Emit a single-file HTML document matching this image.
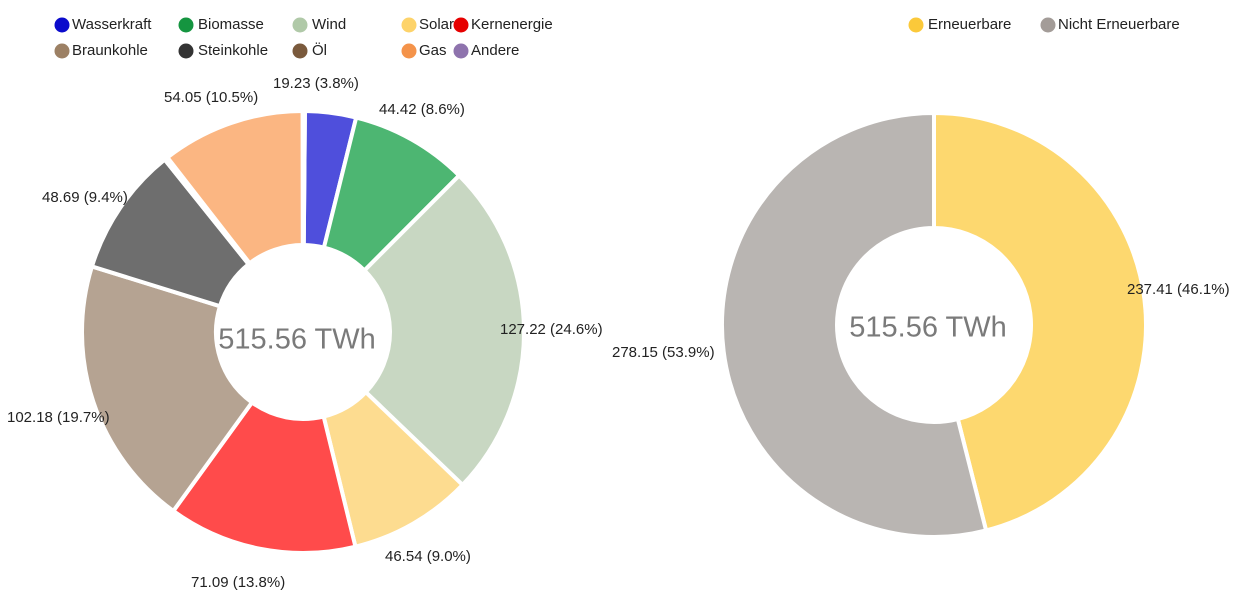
<!DOCTYPE html>
<html><head><meta charset="utf-8"><style>
body{margin:0;width:1249px;height:607px;background:#fff;font-family:"Liberation Sans",Arial,sans-serif;overflow:hidden;position:relative}
.t{position:absolute;font-size:15px;color:#222;white-space:nowrap;line-height:16px;transform:translateY(-50%)}
.lg{position:absolute;font-size:15px;color:#222;white-space:nowrap;line-height:16px;transform:translateY(-50%)}
.d{position:absolute;width:15px;height:15px;border-radius:50%;transform:translate(-50%,-50%)}
.c{position:absolute;font-size:29px;color:#7a7a7a;transform:translate(-50%,-50%);white-space:nowrap}
</style></head><body>
<svg id="s" width="1249" height="607" style="position:absolute;left:0;top:0"></svg>
<div class="c" style="left:297px;top:340px">515.56 TWh</div>
<div class="c" style="left:928px;top:328px">515.56 TWh</div>

<div class="d" style="left:62px;top:25px;background:#0b0bcc"></div><div class="lg" style="left:72px;top:25px">Wasserkraft</div>
<div class="d" style="left:186px;top:25px;background:#159540"></div><div class="lg" style="left:198px;top:25px">Biomasse</div>
<div class="d" style="left:300px;top:25px;background:#b0c9a8"></div><div class="lg" style="left:312px;top:25px">Wind</div>
<div class="d" style="left:409px;top:25px;background:#fdd36a"></div><div class="lg" style="left:419px;top:25px">Solar</div>
<div class="d" style="left:461px;top:25px;background:#e60000"></div><div class="lg" style="left:471px;top:25px">Kernenergie</div>
<div class="d" style="left:62px;top:51px;background:#9c8064"></div><div class="lg" style="left:72px;top:51px">Braunkohle</div>
<div class="d" style="left:186px;top:51px;background:#333"></div><div class="lg" style="left:198px;top:51px">Steinkohle</div>
<div class="d" style="left:300px;top:51px;background:#7a5a3c"></div><div class="lg" style="left:312px;top:51px">Öl</div>
<div class="d" style="left:409px;top:51px;background:#f4934a"></div><div class="lg" style="left:419px;top:51px">Gas</div>
<div class="d" style="left:461px;top:51px;background:#8e73ad"></div><div class="lg" style="left:471px;top:51px">Andere</div>
<div class="d" style="left:916px;top:25px;background:#fbc93a"></div><div class="lg" style="left:928px;top:25px">Erneuerbare</div>
<div class="d" style="left:1048px;top:25px;background:#a39c98"></div><div class="lg" style="left:1058px;top:25px">Nicht Erneuerbare</div>

<div class="t" style="left:273px;top:84px">19.23 (3.8%)</div>
<div class="t" style="left:379px;top:110px">44.42 (8.6%)</div>
<div class="t" style="left:164px;top:98px">54.05 (10.5%)</div>
<div class="t" style="left:42px;top:198px">48.69 (9.4%)</div>
<div class="t" style="left:500px;top:330px">127.22 (24.6%)</div>
<div class="t" style="left:7px;top:418px">102.18 (19.7%)</div>
<div class="t" style="left:385px;top:557px">46.54 (9.0%)</div>
<div class="t" style="left:191px;top:583px">71.09 (13.8%)</div>
<div class="t" style="left:1127px;top:290px">237.41 (46.1%)</div>
<div class="t" style="left:612px;top:353px">278.15 (53.9%)</div>

<script>
var s=document.getElementById('s');
function donut(cx,cy,R,r,data,start){
  var tot=data.reduce(function(a,d){return a+d[0]},0),a=start;
  data.forEach(function(d){
    var a2=a+d[0]/tot*360;
    var p=function(ang,rad){var t=ang*Math.PI/180;return (cx+rad*Math.cos(t)).toFixed(2)+' '+(cy+rad*Math.sin(t)).toFixed(2)};
    var lg=(a2-a)>180?1:0;
    var path='M'+p(a,R)+' A'+R+' '+R+' 0 '+lg+' 1 '+p(a2,R)+' L'+p(a2,r)+' A'+r+' '+r+' 0 '+lg+' 0 '+p(a,r)+' Z';
    var e=document.createElementNS('http://www.w3.org/2000/svg','path');
    e.setAttribute('d',path);e.setAttribute('fill',d[1]);e.setAttribute('stroke','#fff');
    e.setAttribute('stroke-width','4');e.setAttribute('stroke-linejoin','round');
    s.appendChild(e);a=a2;
  });
}
donut(303,332,221,87,[[19.23,'#4f4fdc'],[44.42,'#4db672'],[127.22,'#c8d7c2'],[46.54,'#fddc90'],[71.09,'#ff4b4b'],[102.18,'#b5a392'],[48.69,'#6e6e6e'],[1.3,'#8b7560'],[54.05,'#fbb682'],[0.84,'#ffffff']],-89.5);
donut(934,325,212,97,[[237.41,'#fdd86f'],[278.15,'#b9b5b2']],-90);
</script>
</body></html>
